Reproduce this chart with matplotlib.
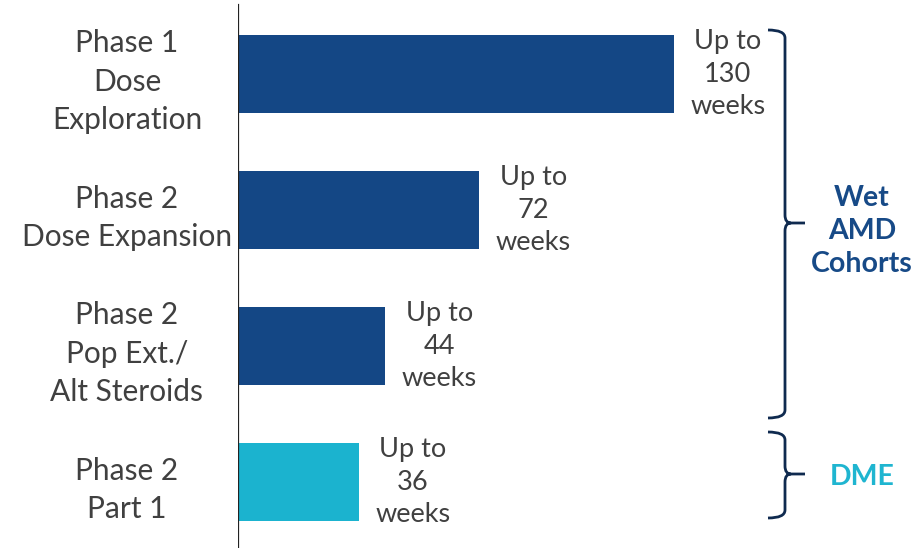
import matplotlib
matplotlib.use("Agg")
from matplotlib import pyplot as plt
from matplotlib.path import Path
from matplotlib.patches import PathPatch

plt.rcParams['font.family'] = ['Lato', 'DejaVu Sans']

# Data
phases = ["Phase 1\nDose\nExploration", "Phase 2\nDose Expansion",
          "Phase 2\nPop Ext./\nAlt Steroids", "Phase 2\nPart 1"]
weeks = [130, 72, 44, 36]
bar_colors = ["#144785", "#144785", "#144785", "#1BB3CF"]
groups = ["Wet\nAMD\nCohorts", "DME"]
group_colors = ["#174A87", "#1FB5D0"]

text_gray = "#404040"
brace_color = "#0F2A4F"

fig = plt.figure(figsize=(9.19, 5.48), dpi=100)
ax = fig.add_axes([238 / 919, 0, 681 / 919, 1])

px_per_week = 3.35
ax.set_xlim(0, 681 / px_per_week)
ax.set_ylim((548 - 74) / 136, -74 / 136)

ypos = list(range(len(phases)))
ax.barh(ypos, weeks, height=0.58, color=bar_colors)

for y, w in zip(ypos, weeks):
    ax.annotate("Up to\n%d\nweeks" % w, xy=(w, y), xytext=(39, 0),
                textcoords="offset points", ha="center", va="center",
                fontsize=19.5, color=text_gray, linespacing=1.4)

# axis line
for s in ax.spines.values():
    s.set_visible(False)
ax.axvline(0, ymin=0, ymax=(548 - 5) / 548, color="#222222", lw=1.6)
ax.set_xticks([])
ax.set_yticks(ypos)
ax.set_yticklabels(phases, ha="center", fontsize=21.5, color=text_gray,
                   linespacing=1.45)
ax.tick_params(axis="y", length=0, pad=80)


def brace(y_top, y_bot, y_mid):
    x0 = (768 - 238) / px_per_week
    xs = (785 - 238) / px_per_week
    xt = (805 - 238) / px_per_week
    rx = 6 / px_per_week
    ry = 8 / 136
    verts = [(x0, y_top), (xs, y_top), (xs, y_top + ry),
             (xs, y_mid - ry), (xs, y_mid), (xs + rx, y_mid),
             (xt, y_mid),
             (x0, y_bot), (xs, y_bot), (xs, y_bot - ry),
             (xs, y_mid + ry), (xs, y_mid), (xs + rx, y_mid)]
    codes = [Path.MOVETO, Path.CURVE3, Path.CURVE3,
             Path.LINETO, Path.CURVE3, Path.CURVE3,
             Path.LINETO,
             Path.MOVETO, Path.CURVE3, Path.CURVE3,
             Path.LINETO, Path.CURVE3, Path.CURVE3]
    ax.add_patch(PathPatch(Path(verts, codes), fill=False, lw=2,
                           edgecolor=brace_color, clip_on=False))


brace((30 - 74) / 136, (418 - 74) / 136, (223 - 74) / 136)
brace((432 - 74) / 136, (518 - 74) / 136, (474 - 74) / 136)

gx = (862 - 238) / px_per_week
ax.text(gx, (231 - 74) / 136, groups[0], ha="center", va="center",
        fontsize=20.5, fontweight="bold", color=group_colors[0], linespacing=1.35)
ax.text(gx, (477 - 74) / 136, groups[1], ha="center", va="center",
        fontsize=20.5, fontweight="bold", color=group_colors[1])

fig.savefig("out.png", dpi=100)
